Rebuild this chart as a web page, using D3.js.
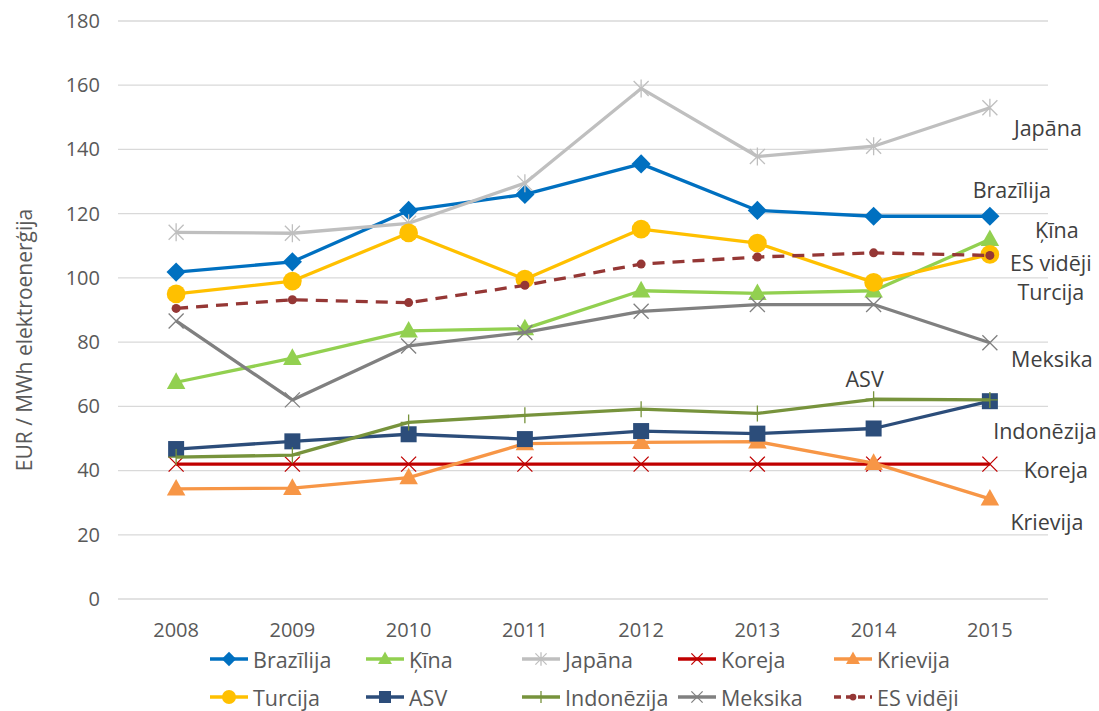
<!DOCTYPE html>
<html lang="lv">
<head>
  <meta charset="UTF-8">
  <title>EUR / MWh elektroenerģija</title>
  <style>
    body, html {
      margin: 0;
      padding: 0;
      background: #fff;
    }
    svg text {
      font-family: "Open Sans", "Noto Sans", sans-serif;
    }
  </style>
</head>
<body>
  <svg id="svg" width="1099" height="711"></svg>

  <script src="https://cdn.jsdelivr.net/npm/d3@7"></script>
  <script>
    const years = ['2008', '2009', '2010', '2011', '2012', '2013', '2014', '2015'];
    const yTicks = [0, 20, 40, 60, 80, 100, 120, 140, 160, 180];

    const brazilija = [101.8, 105, 121, 126, 135.5, 121, 119.2, 119.2];
    const kina = [67.5, 75, 83.5, 84.2, 96, 95.2, 96, 112];
    const japana = [114.2, 113.9, 117, 129.5, 159, 137.8, 141, 153];
    const koreja = [42, 42, 42, 42, 42, 42, 42, 42];
    const krievija = [34.3, 34.5, 37.8, 48.4, 48.8, 49, 42.3, 31.2];
    const turcija = [95, 99, 114, 99.6, 115.2, 110.8, 98.6, 107.3];
    const asv = [46.7, 49.1, 51.3, 49.8, 52.3, 51.5, 53.1, 61.6];
    const indonezija = [44.2, 44.8, 55, 57.2, 59.1, 57.8, 62.2, 62];
    const meksika = [86.6, 62, 78.8, 83, 89.6, 91.7, 91.7, 79.8];
    const esVideji = [90.5, 93.2, 92.3, 97.7, 104.3, 106.5, 107.8, 107];

    const seriesNames = ['Brazīlija', 'Ķīna', 'Japāna', 'Koreja', 'Krievija',
      'Turcija', 'ASV', 'Indonēzija', 'Meksika', 'ES vidēji'];
    const seriesValues = [brazilija, kina, japana, koreja, krievija,
      turcija, asv, indonezija, meksika, esVideji];

    const styles = [
      { color: '#0070C0', marker: 'diamond' },
      { color: '#92D050', marker: 'triangle' },
      { color: '#BFBFBF', marker: 'star' },
      { color: '#C00000', marker: 'cross' },
      { color: '#F79646', marker: 'triangle' },
      { color: '#FFC000', marker: 'circle' },
      { color: '#2C4D7A', marker: 'square' },
      { color: '#77933C', marker: 'plus' },
      { color: '#808080', marker: 'cross' },
      { color: '#953735', marker: 'dot', dash: '12,8' }
    ];

    // end-of-line labels (placed next to the 2015 point, offsets in px)
    const endLabels = [
      { name: 'Japāna', dx: 58, dy: 20 },
      { name: 'Brazīlija', dx: 22, dy: -27 },
      { name: 'Ķīna', dx: 67, dy: -10 },
      { name: 'ES vidēji', dx: 61, dy: 7 },
      { name: 'Turcija', dx: 61, dy: 37 },
      { name: 'Meksika', dx: 62, dy: 16 },
      { name: 'Indonēzija', dx: 55, dy: 31 },
      { name: 'Koreja', dx: 66, dy: 5 },
      { name: 'Krievija', dx: 57, dy: 23 }
    ];

    const svg = d3.select('#svg');
    const margin = { top: 21, left: 118, right: 51, bottom: 112 };
    const width = 1099 - margin.left - margin.right;
    const height = 711 - margin.top - margin.bottom;

    const g = svg.append('g')
      .attr('transform', `translate(${margin.left},${margin.top})`);

    const x = d3.scaleBand().domain(years).range([0, width]);
    const y = d3.scaleLinear().domain([0, 180]).range([height, 0]);
    const cx = d => x(d) + x.bandwidth() / 2;

    // gridlines
    g.append('g')
      .selectAll('line')
      .data(yTicks)
      .enter()
      .append('line')
      .attr('x1', 0)
      .attr('x2', width)
      .attr('y1', d => y(d))
      .attr('y2', d => y(d))
      .attr('stroke', '#D9D9D9')
      .attr('stroke-width', 1.3);

    // Y axis
    const yAxis = g.append('g')
      .call(d3.axisLeft(y).tickValues(yTicks).tickSize(0).tickPadding(18));
    yAxis.select('.domain').remove();
    yAxis.selectAll('text')
      .attr('fill', '#595959')
      .style('font-size', '20px');

    // X axis
    const xAxis = g.append('g')
      .attr('transform', `translate(0,${height})`)
      .call(d3.axisBottom(x).tickSize(0).tickPadding(24));
    xAxis.select('.domain').remove();
    xAxis.selectAll('text')
      .attr('fill', '#595959')
      .style('font-size', '20px');

    // Y axis label
    svg.append('text')
      .attr('transform', 'rotate(-90)')
      .attr('x', -340)
      .attr('y', 32)
      .attr('text-anchor', 'middle')
      .attr('fill', '#595959')
      .style('font-size', '21px')
      .text('EUR / MWh elektroenerģija');

    function drawMarker(sel, type, color, size) {
      const s = size;
      if (type === 'diamond') {
        sel.append('path')
          .attr('d', `M0,${-s * 0.6}L${s * 0.6},0L0,${s * 0.6}L${-s * 0.6},0Z`)
          .attr('fill', color);
      } else if (type === 'triangle') {
        sel.append('path')
          .attr('d', `M0,${-s * 0.62}L${s * 0.58},${s * 0.42}L${-s * 0.58},${s * 0.42}Z`)
          .attr('fill', color);
      } else if (type === 'circle') {
        sel.append('circle').attr('r', s * 0.55).attr('fill', color);
      } else if (type === 'square') {
        sel.append('rect')
          .attr('x', -s / 2).attr('y', -s / 2)
          .attr('width', s).attr('height', s)
          .attr('fill', color);
      } else if (type === 'dot') {
        sel.append('circle').attr('r', s / 2).attr('fill', color);
      } else if (type === 'cross') {
        sel.append('path')
          .attr('d', `M${-s / 2},${-s / 2}L${s / 2},${s / 2}M${-s / 2},${s / 2}L${s / 2},${-s / 2}`)
          .attr('stroke', color).attr('stroke-width', 1.3).attr('fill', 'none');
      } else if (type === 'plus') {
        sel.append('path')
          .attr('d', `M0,${-s / 2}L0,${s / 2}M${-s / 2},0L${s / 2},0`)
          .attr('stroke', color).attr('stroke-width', 1.3).attr('fill', 'none');
      } else if (type === 'star') {
        sel.append('path')
          .attr('d', `M${-s / 2},${-s / 2}L${s / 2},${s / 2}M${-s / 2},${s / 2}L${s / 2},${-s / 2}M0,${-s * 0.6}L0,${s * 0.6}`)
          .attr('stroke', color).attr('stroke-width', 1.3).attr('fill', 'none');
      }
    }

    const markerSize = {
      diamond: 16, triangle: 16, star: 15, cross: 15, circle: 17, square: 16, plus: 16, dot: 9
    };

    const linegen = d3.line()
      .x(d => cx(d.year))
      .y(d => y(d.value));

    seriesNames.forEach((name, i) => {
      const st = styles[i];
      const pts = years.map((yr, j) => ({ year: yr, value: seriesValues[i][j] }));
      const sg = g.append('g');
      sg.append('path')
        .datum(pts)
        .attr('d', linegen)
        .attr('fill', 'none')
        .attr('stroke', st.color)
        .attr('stroke-width', 3.3)
        .attr('stroke-dasharray', st.dash || null)
        .attr('stroke-linejoin', 'round');
      sg.selectAll('g.mk')
        .data(pts)
        .enter()
        .append('g')
        .attr('class', 'mk')
        .attr('transform', d => `translate(${cx(d.year)},${y(d.value)})`)
        .each(function () {
          drawMarker(d3.select(this), st.marker, st.color, markerSize[st.marker]);
        });
    });

    // labels at the right end
    const last = years[years.length - 1];
    endLabels.forEach(l => {
      const idx = seriesNames.indexOf(l.name);
      const v = seriesValues[idx][years.length - 1];
      g.append('text')
        .attr('x', cx(last) + l.dx)
        .attr('y', y(v) + l.dy)
        .attr('text-anchor', 'middle')
        .attr('dominant-baseline', 'central')
        .attr('fill', '#404040')
        .style('font-size', '21.5px')
        .text(l.name);
    });
    // ASV label sits above the 2014 point
    g.append('text')
      .attr('x', cx('2014') - 9)
      .attr('y', y(asv[6]) - 50)
      .attr('text-anchor', 'middle')
      .attr('dominant-baseline', 'central')
      .attr('fill', '#404040')
      .style('font-size', '21.5px')
      .text('ASV');

    // legend
    const legend = svg.append('g');
    const rows = [seriesNames.slice(0, 5), seriesNames.slice(5)];
    rows.forEach((row, r) => {
      let cursor = 210;
      const ly = 659 + r * 38;
      row.forEach(name => {
        const i = seriesNames.indexOf(name);
        const st = styles[i];
        const item = legend.append('g').attr('transform', `translate(${cursor},${ly})`);
        item.append('line')
          .attr('x1', 0).attr('x2', 38)
          .attr('stroke', st.color)
          .attr('stroke-width', 3.3)
          .attr('stroke-dasharray', st.dash ? '7,5' : null);
        const mk = item.append('g').attr('transform', 'translate(19,0)');
        drawMarker(mk, st.marker, st.color, markerSize[st.marker] * 0.75);
        const t = item.append('text')
          .attr('x', 43)
          .attr('y', 0)
          .attr('dominant-baseline', 'central')
          .attr('fill', '#595959')
          .style('font-size', '21.5px')
          .text(name);
        const tw = t.node().getComputedTextLength();
        cursor += Math.max(156, 43 + tw + 2);
      });
    });
  </script>
</body>
</html>
